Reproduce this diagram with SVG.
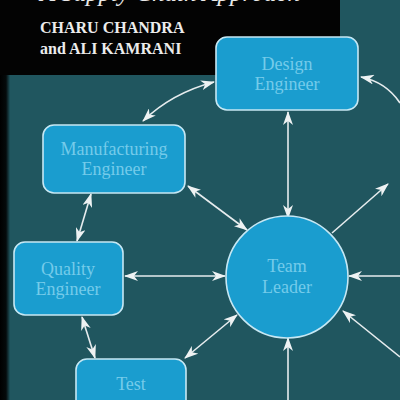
<svg xmlns="http://www.w3.org/2000/svg" width="400" height="400" viewBox="0 0 400 400">
<defs>
<style>
.node{fill:#1a9dcf;stroke:#c6e8f4;stroke-width:1.6}
.lbl{font-family:"Liberation Serif","Times New Roman",serif;font-size:18px;fill:#74cbea;text-anchor:middle}
.hdr{font-family:"Liberation Serif","Times New Roman",serif;font-weight:bold;font-size:16px;fill:#ececec}
.ttl{font-family:"Liberation Serif","Times New Roman",serif;font-style:italic;font-size:25px;fill:#e8e8e8}
.con{fill:none;stroke:#e6ecee;stroke-width:1.6}
</style>
<marker id="ah" viewBox="0 0 14 10" refX="13" refY="5" markerWidth="14" markerHeight="10" markerUnits="userSpaceOnUse" orient="auto-start-reverse">
<path d="M0,0 L14,5 L0,10 L4,5 z" fill="#eef2f3"/>
</marker>
<linearGradient id="edge" x1="0" y1="0" x2="1" y2="0">
<stop offset="0" stop-color="#000"/>
<stop offset="0.6" stop-color="#050a0b"/>
<stop offset="1" stop-color="#1f545d"/>
</linearGradient>
</defs>
<rect x="0" y="0" width="400" height="400" fill="#20565f"/>
<rect x="0" y="0" width="10" height="400" fill="url(#edge)"/>
<rect x="0" y="0" width="340" height="75" fill="#030303"/>
<text class="ttl" x="40" y="1">A Supply Chain Approach</text>
<text class="hdr" x="40" y="33">CHARU CHANDRA</text>
<text class="hdr" x="40" y="54">and ALI KAMRANI</text>
<g id="connectors">
<path class="con" d="M143,121 Q172,93 214,82" marker-start="url(#ah)" marker-end="url(#ah)"/>
<path class="con" d="M400,103 Q386,82 361,77" marker-end="url(#ah)"/>
<path class="con" d="M288,112 L288,218" marker-start="url(#ah)" marker-end="url(#ah)"/>
<path class="con" d="M188,186 L247,230" marker-start="url(#ah)" marker-end="url(#ah)"/>
<path class="con" d="M332,233 L388,184" marker-end="url(#ah)"/>
<path class="con" d="M91,194 L77,241" marker-start="url(#ah)" marker-end="url(#ah)"/>
<path class="con" d="M225,276 L125,276" marker-start="url(#ah)" marker-end="url(#ah)"/>
<path class="con" d="M400,276 L349,276" marker-end="url(#ah)"/>
<path class="con" d="M82,317 L95,358" marker-start="url(#ah)" marker-end="url(#ah)"/>
<path class="con" d="M237,315 L185,358" marker-start="url(#ah)" marker-end="url(#ah)"/>
<path class="con" d="M288,400 L288,338" marker-end="url(#ah)"/>
<path class="con" d="M400,357 L343,311" marker-end="url(#ah)"/>
</g>
<g id="design-engineer">
<rect class="node" x="216" y="37" width="142" height="73" rx="11"/>
<text class="lbl" x="287" y="70">Design</text>
<text class="lbl" x="287" y="90">Engineer</text>
</g>
<g id="manufacturing-engineer">
<rect class="node" x="43" y="125" width="142" height="68" rx="11"/>
<text class="lbl" x="114" y="155">Manufacturing</text>
<text class="lbl" x="114" y="175">Engineer</text>
</g>
<g id="quality-engineer">
<rect class="node" x="14" y="242" width="109" height="73" rx="11"/>
<text class="lbl" x="68" y="275">Quality</text>
<text class="lbl" x="68" y="295">Engineer</text>
</g>
<g id="test">
<rect class="node" x="76" y="359" width="110" height="70" rx="11"/>
<text class="lbl" x="131" y="390">Test</text>
</g>
<g id="team-leader">
<circle class="node" cx="287" cy="277" r="61"/>
<text class="lbl" x="287" y="272">Team</text>
<text class="lbl" x="287" y="293">Leader</text>
</g>
</svg>
